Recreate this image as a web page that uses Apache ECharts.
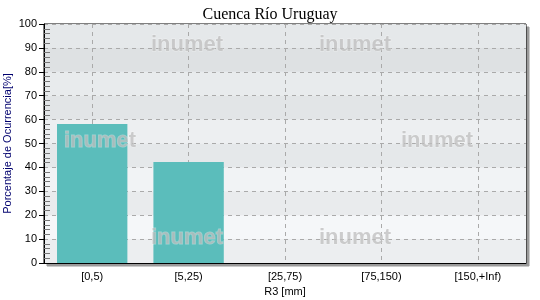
<!DOCTYPE html>
<html><head><meta charset="utf-8">
<script src="https://cdn.jsdelivr.net/npm/echarts@6/dist/echarts.min.js"></script>
<style>html,body{margin:0;padding:0;background:#fff}#c{width:540px;height:300px}</style>
</head><body><div id="c"></div>
<script>
const titleText = 'Cuenca Río Uruguay';
const categories = ['[0,5)', '[5,25)', '[25,75)', '[75,150)', '[150,+Inf)'];
const occurrence = [58.2, 42.3, 0, 0, 0];
const yTicks = [0, 10, 20, 30, 40, 50, 60, 70, 80, 90, 100];
const xName = 'R3 [mm]';
const yName = 'Porcentaje de Ocurrencia[%]';

const bandColors = ['#eceef0', '#f5f7f9', '#e9ebed', '#f1f3f5', '#e5e8ea', '#edeff1', '#e2e5e7', '#e8ebed', '#dee1e3', '#e5e8ea'];
const wm = {type: 'text', z: 100, style: {text: 'inumet', font: 'bold 22px "Liberation Sans", Arial, sans-serif', fill: 'rgba(190,190,190,0.75)', stroke: 'rgba(255,255,255,0.35)', lineWidth: 1, textAlign: 'center', textVerticalAlign: 'middle'}};
const wmPos = [[187, 45], [355, 45], [100, 141], [437, 141], [187, 238], [355, 238]];

const chart = echarts.init(document.getElementById('c'), null, {renderer: 'canvas'});
chart.setOption({
  animation: false,
  backgroundColor: '#fff',
  title: {text: titleText, left: 'center', top: 2, textStyle: {fontFamily: '"Liberation Serif", "Times New Roman", serif', fontWeight: 'normal', fontSize: 16, color: '#000'}},
  grid: {left: 44, right: 14, top: 24, bottom: 37, containLabel: false, outerBoundsMode: 'none', show: true, borderColor: '#000', borderWidth: 1, backgroundColor: '#eef0f2', shadowColor: '#9a9a9a', shadowOffsetX: 3, shadowOffsetY: 3, shadowBlur: 0.01},
  xAxis: {
    type: 'category', data: categories,
    name: xName, nameLocation: 'middle', nameGap: 23, nameMoveOverlap: false,
    nameTextStyle: {fontFamily: '"Liberation Sans", Arial, sans-serif', fontSize: 11, color: '#000'},
    axisLine: {lineStyle: {color: '#000', width: 1}},
    axisTick: {alignWithLabel: true, length: 5, lineStyle: {color: '#000'}},
    axisLabel: {margin: 8, fontFamily: '"Liberation Sans", Arial, sans-serif', fontSize: 11, color: '#000'},
    splitLine: {show: true, alignWithLabel: true, lineStyle: {color: '#aaaaaa', type: [4, 4]}}
  },
  yAxis: {
    type: 'value', min: yTicks[0], max: yTicks[yTicks.length - 1], interval: yTicks[1] - yTicks[0],
    name: yName, nameLocation: 'middle', nameGap: 31, nameMoveOverlap: false,
    nameTextStyle: {fontFamily: '"Liberation Sans", Arial, sans-serif', fontSize: 11, color: '#00006e'},
    axisLine: {show: true, lineStyle: {color: '#000', width: 1}},
    axisTick: {show: true, length: 5, lineStyle: {color: '#000'}},
    minorTick: {show: true, splitNumber: 5, length: -6, lineStyle: {color: '#777'}},
    axisLabel: {margin: 7, fontFamily: '"Liberation Sans", Arial, sans-serif', fontSize: 11, color: '#000'},
    splitLine: {show: true, lineStyle: {color: '#aaaaaa', type: [4, 4]}},
    splitArea: {show: true, areaStyle: {color: bandColors}}
  },
  series: [{
    type: 'bar', data: occurrence, barWidth: '73%',
    itemStyle: {color: '#5bbdbb'},
    z: 3
  }],
  graphic: wmPos.map(p => Object.assign({}, wm, {x: p[0], y: p[1]}))
});
</script></body></html>
